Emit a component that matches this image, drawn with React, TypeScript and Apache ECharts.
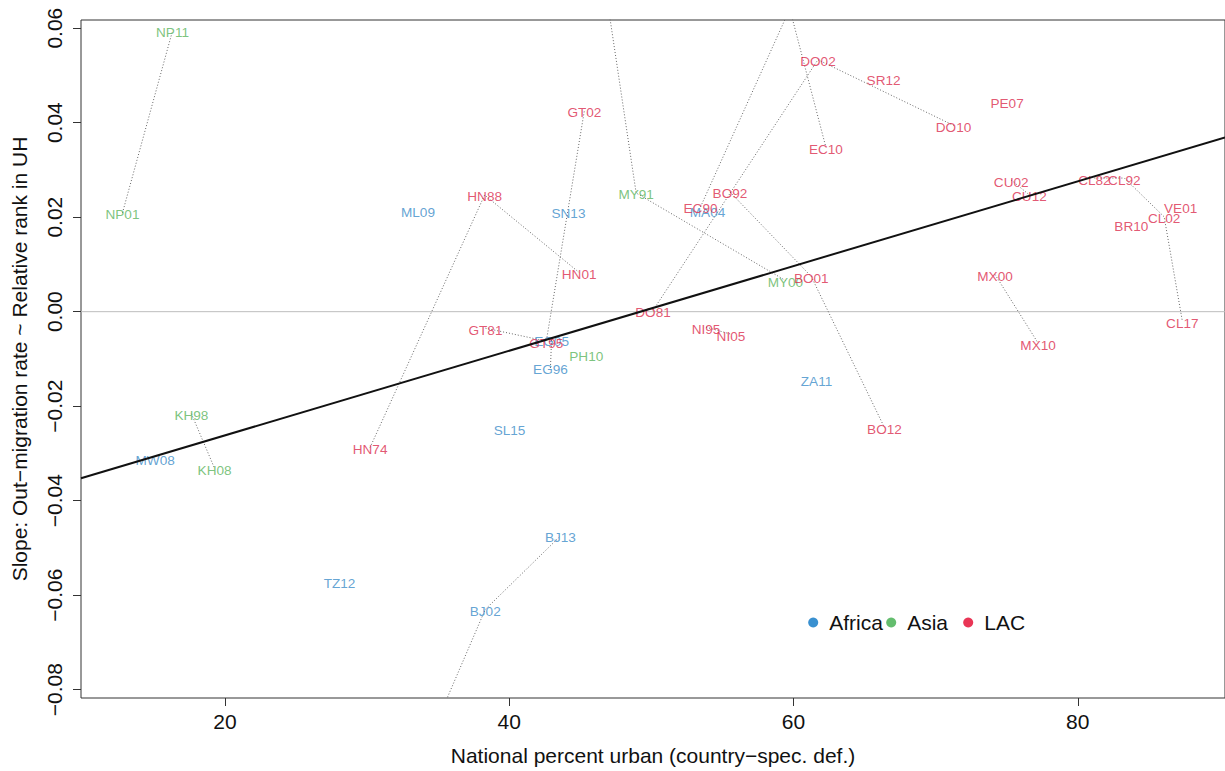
import React, { useEffect, useRef } from "react";
import * as echarts from "echarts";

// ---- Data (survey labels, national percent urban, slope) ----
const africaNames = ["MW08", "ML09", "SN13", "MA04", "EG05", "EG96", "SL15", "ZA11", "TZ12", "BJ13", "BJ02"];
const africaX = [15.09, 33.58, 44.17, 53.95, 42.98, 42.9, 40.02, 61.62, 28.06, 43.6, 38.31];
const africaY = [-0.03106, 0.02133, 0.02112, 0.02133, -0.00581, -0.01191, -0.02474, -0.01443, -0.05714, -0.04747, -0.06304];

const asiaNames = ["NP01", "NP11", "KH98", "KH08", "MY91", "MY00", "PH10"];
const asiaX = [12.79, 16.31, 17.64, 19.27, 48.93, 59.43, 45.42];
const asiaY = [0.02091, 0.05942, -0.02159, -0.03316, 0.02512, 0.00661, -0.00896];

const lacNames = [
  "HN74", "HN88", "HN01", "GT81", "GT95", "GT02", "DO81", "DO02", "DO10", "EC90", "EC10",
  "BO92", "BO01", "BO12", "NI95", "NI05", "SR12", "PE07", "CU02", "CU12", "MX00", "MX10",
  "CL82", "CL92", "CL02", "CL17", "VE01", "BR10",
];
const lacX = [
  30.21, 38.27, 44.92, 38.33, 42.61, 45.29, 50.12, 61.72, 71.26, 53.46, 62.28,
  55.53, 61.25, 66.4, 53.85, 55.6, 66.34, 75.03, 75.32, 76.6, 74.18, 77.21,
  81.17, 83.28, 86.08, 87.36, 87.24, 83.77,
];
const lacY = [
  -0.02874, 0.0247, 0.00829, -0.00349, -0.00623, 0.04259, 0.00029, 0.05332, 0.03943, 0.02218, 0.0348,
  0.02533, 0.00745, -0.02453, -0.00328, -0.00476, 0.04932, 0.04448, 0.02786, 0.0247, 0.00787, -0.00665,
  0.02828, 0.02828, 0.02007, -0.00202, 0.02218, 0.01839,
];

// surveys whose points fall outside the plotting region (labels clipped away)
const hiddenNames = ["BJ96", "MY84", "EC01"];
const hiddenX = [33.74, 45.85, 59.74];
const hiddenY = [-0.09502, 0.08698, 0.0641];

// surveys of the same country joined by dotted lines
const chains = [
  ["NP01", "NP11"],
  ["KH98", "KH08"],
  ["BJ96", "BJ02", "BJ13"],
  ["EG96", "EG05"],
  ["MY84", "MY91", "MY00"],
  ["HN74", "HN88", "HN01"],
  ["GT81", "GT95", "GT02"],
  ["DO81", "DO02", "DO10"],
  ["EC90", "EC01", "EC10"],
  ["BO92", "BO01", "BO12"],
  ["NI95", "NI05"],
  ["CU02", "CU12"],
  ["MX00", "MX10"],
  ["CL82", "CL92", "CL02", "CL17"],
];

// fitted regression line end points
const fitX = [9.872, 90.36];
const fitY = [-0.03526, 0.03686];

const xTicks = [20, 40, 60, 80];
const yTicks = [-0.08, -0.06, -0.04, -0.02, 0, 0.02, 0.04, 0.06];
const xRange = [9.872, 90.36];
const yRange = [-0.08176, 0.06173];

const regionNames = ["Africa", "Asia", "LAC"];
const regionDot = ["#0874c4", "#3dac4a", "#e3032b"];
const regionText = ["#3c8cc8", "#5bb45d", "#db2c4e"];

const FONT = "'Liberation Sans', Arial, Helvetica, sans-serif";

export default function App() {
  const ref = useRef<HTMLDivElement>(null);

  useEffect(() => {
    if (!ref.current) return;
    const chart = echarts.init(ref.current, null, { renderer: "svg" });

    const lookup: Record<string, [number, number]> = {};
    const addAll = (n: string[], xs: number[], ys: number[]) =>
      n.forEach((name, i) => (lookup[name] = [xs[i], ys[i]]));
    addAll(africaNames, africaX, africaY);
    addAll(asiaNames, asiaX, asiaY);
    addAll(lacNames, lacX, lacY);
    addAll(hiddenNames, hiddenX, hiddenY);

    const regions = [
      { names: africaNames, xs: africaX, ys: africaY },
      { names: asiaNames, xs: asiaX, ys: asiaY },
      { names: lacNames, xs: lacX, ys: lacY },
    ];

    const series: any[] = [];

    series.push({
      type: "line",
      data: [[xRange[0], 0], [xRange[1], 0]],
      symbol: "none",
      silent: true,
      z: 0,
      lineStyle: { color: "#bdbdbd", width: 1 },
    });

    chains.forEach((c) => {
      series.push({
        type: "line",
        data: c.map((n) => lookup[n]),
        symbol: "none",
        silent: true,
        clip: true,
        z: 1,
        lineStyle: { color: "#666", width: 1, type: [1, 2] },
      });
    });

    regions.forEach((r, k) => {
      series.push({
        name: regionNames[k],
        type: "scatter",
        symbolSize: 0,
        silent: true,
        z: 3,
        itemStyle: { color: regionDot[k] },
        emphasis: { disabled: true },
        label: {
          show: true,
          position: "inside",
          offset: [0, 2],
          formatter: (p: any) => p.name,
          color: regionText[k],
          fontSize: 13.6,
          fontFamily: FONT,
        },
        data: r.names.map((n, i) => ({ name: n, value: [r.xs[i], r.ys[i]] })),
      });
    });

    series.push({
      type: "line",
      data: fitX.map((x, i) => [x, fitY[i]]),
      symbol: "none",
      silent: true,
      z: 5,
      lineStyle: { color: "#111", width: 2 },
    });

    const legendLefts = [808.2, 886.2, 963.2];

    chart.setOption({
      animation: false,
      textStyle: { fontFamily: FONT },
      grid: {
        left: 81,
        top: 20,
        right: -6,
        bottom: 69,
        show: true,
        borderColor: "#333",
        borderWidth: 1,
        backgroundColor: "transparent",
      },
      legend: regionNames.map((n, k) => ({
        data: [n],
        left: legendLefts[k],
        top: 612,
        padding: 0,
        icon: "circle",
        itemWidth: 22,
        itemHeight: 10,
        selectedMode: false,
        textStyle: { fontSize: 21, color: "#111", fontFamily: FONT },
      })),
      xAxis: {
        type: "value",
        min: xRange[0],
        max: xRange[1],
        name: "National percent urban (country\u2212spec. def.)",
        nameLocation: "middle",
        nameGap: 47,
        nameTextStyle: { fontSize: 21, color: "#111", fontFamily: FONT },
        axisLine: { show: false, onZero: false },
        splitLine: { show: false },
        axisTick: { show: true, length: 8, customValues: xTicks, lineStyle: { color: "#333" } },
        axisLabel: {
          show: true,
          customValues: xTicks,
          margin: 13,
          fontSize: 21,
          color: "#111",
          fontFamily: FONT,
        },
      },
      yAxis: {
        type: "value",
        min: yRange[0],
        max: yRange[1],
        name: "Slope: Out\u2212migration rate ~ Relative rank in UH",
        nameLocation: "middle",
        nameGap: 51,
        nameTextStyle: { fontSize: 21, color: "#111", fontFamily: FONT },
        axisLine: { show: false, onZero: false },
        splitLine: { show: false },
        axisTick: { show: true, length: 8, customValues: yTicks, lineStyle: { color: "#333" } },
        axisLabel: {
          show: true,
          customValues: yTicks,
          rotate: 90,
          margin: 16,
          fontSize: 21,
          color: "#111",
          fontFamily: FONT,
          formatter: (v: number) => (v < -1e-9 ? "\u2212" : "") + Math.abs(v).toFixed(2),
        },
      },
      series,
    });

    return () => chart.dispose();
  }, []);

  return (
    <div
      ref={ref}
      style={{ position: "fixed", left: 0, top: 0, width: 1225, height: 771, background: "#fff" }}
    />
  );
}
